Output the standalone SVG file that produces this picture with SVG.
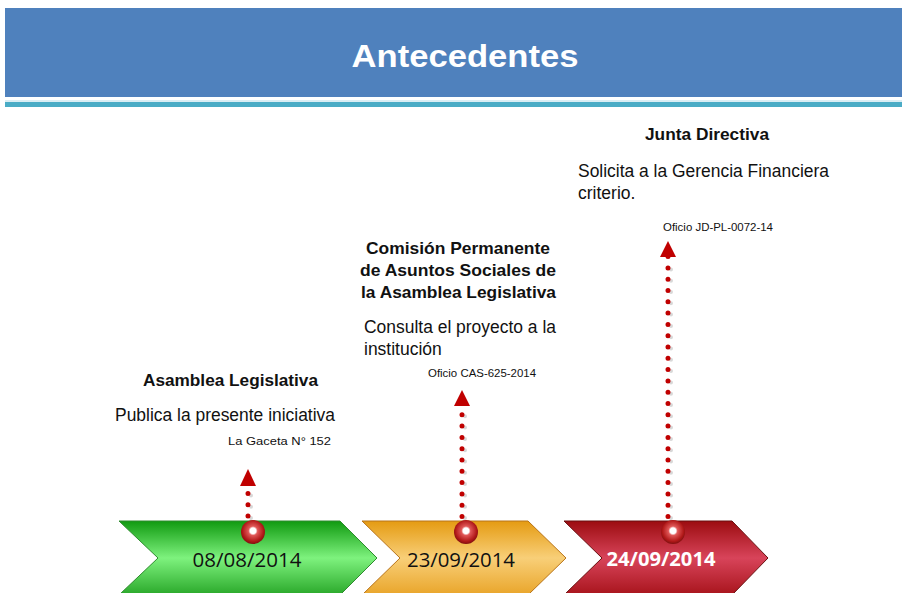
<svg xmlns="http://www.w3.org/2000/svg" width="902" height="593" viewBox="0 0 902 593">
<defs>
<linearGradient id="gGreen" x1="0" y1="0" x2="0" y2="1">
<stop offset="0" stop-color="#109a10"/><stop offset="0.5" stop-color="#7ef27e"/><stop offset="1" stop-color="#2aa82a"/>
</linearGradient>
<linearGradient id="gOrange" x1="0" y1="0" x2="0" y2="1">
<stop offset="0" stop-color="#e59b12"/><stop offset="0.5" stop-color="#f8cf78"/><stop offset="1" stop-color="#e9a52a"/>
</linearGradient>
<linearGradient id="gRed" x1="0" y1="0" x2="0" y2="1">
<stop offset="0" stop-color="#9c0c10"/><stop offset="0.5" stop-color="#d8445a"/><stop offset="1" stop-color="#a8141c"/>
</linearGradient>
<radialGradient id="gBall" cx="0.5" cy="0.45" r="0.55">
<stop offset="0" stop-color="#ffffff"/><stop offset="0.22" stop-color="#ffffff"/><stop offset="0.35" stop-color="#e05858"/><stop offset="0.8" stop-color="#b01818"/><stop offset="1" stop-color="#801010"/>
</radialGradient>
<style>
.title{font-family:"Liberation Sans",Arial,sans-serif;font-weight:bold;font-size:32px;fill:#ffffff}
.hd{font-family:"Liberation Sans",Arial,sans-serif;font-weight:bold;font-size:16.5px;fill:#111}
.bd{font-family:"Liberation Sans",Arial,sans-serif;font-size:17.5px;fill:#111}
.sm{font-family:"Liberation Sans",Arial,sans-serif;font-size:11px;fill:#111}
.date{font-family:"Open Sans","Liberation Sans",sans-serif;font-size:20px;fill:#111}
.dots{fill:none;stroke:#c00000;stroke-width:5;stroke-linecap:round;stroke-dasharray:0 11.3}
.shadow{fill:none;stroke:#c8c8c8;stroke-width:4;stroke-linecap:round;stroke-dasharray:0 11.3;opacity:0.7}
.arrow{fill:#c00000}
</style>
</defs>
<g id="header">
<rect x="5" y="8" width="897" height="89" fill="#4f81bd"/>
<rect x="5" y="100" width="897" height="2" fill="#dbeef4"/>
<rect x="5" y="102" width="897" height="5" fill="#4bacc6"/>
<text class="title" x="465" y="67" text-anchor="middle" textLength="227" lengthAdjust="spacingAndGlyphs">Antecedentes</text>
</g>
<g id="connectors">
<line class="shadow" x1="251" y1="518" x2="251" y2="490"/>
<line class="dots" x1="248" y1="516" x2="248" y2="488"/>
<polygon class="arrow" points="248,469 240,486 256,486"/>
<line class="shadow" x1="465" y1="518" x2="465" y2="410"/>
<line class="dots" x1="462" y1="516.5" x2="462" y2="403"/>
<polygon class="arrow" points="462,390 454,406 470,406"/>
<line class="shadow" x1="671" y1="518" x2="671" y2="262"/>
<line class="dots" x1="668" y1="516.5" x2="668" y2="256"/>
<polygon class="arrow" points="668,241 660,257 676,257"/>
</g>
<g id="node-1">
<polygon points="119,521 340,521 377,558 340,595 119,595 158,558" fill="url(#gGreen)" stroke="#2e8b2e" stroke-width="1"/>
<circle cx="253" cy="532" r="12" fill="url(#gBall)"/>
<text class="date" x="247" y="567" text-anchor="middle" textLength="109" lengthAdjust="spacingAndGlyphs">08/08/2014</text>
<text class="hd" x="143" y="386" textLength="175" lengthAdjust="spacingAndGlyphs">Asamblea Legislativa</text>
<text class="bd" x="115" y="421" textLength="220" lengthAdjust="spacingAndGlyphs">Publica la presente iniciativa</text>
<text class="sm" x="228" y="445" textLength="103" lengthAdjust="spacingAndGlyphs">La Gaceta N° 152</text>
</g>
<g id="node-2">
<polygon points="362,521 528,521 566,558 528,595 362,595 400,558" fill="url(#gOrange)" stroke="#b8741a" stroke-width="1"/>
<circle cx="466" cy="532" r="12" fill="url(#gBall)"/>
<text class="date" x="461" y="567" text-anchor="middle" textLength="108" lengthAdjust="spacingAndGlyphs">23/09/2014</text>
<text class="hd" x="366" y="254" textLength="184" lengthAdjust="spacingAndGlyphs">Comisión Permanente</text>
<text class="hd" x="360" y="276" textLength="196" lengthAdjust="spacingAndGlyphs">de Asuntos Sociales de</text>
<text class="hd" x="361" y="298" textLength="195" lengthAdjust="spacingAndGlyphs">la Asamblea Legislativa</text>
<text class="bd" x="364" y="333" textLength="192" lengthAdjust="spacingAndGlyphs">Consulta el proyecto a la</text>
<text class="bd" x="364" y="355">institución</text>
<text class="sm" x="428" y="377" textLength="108" lengthAdjust="spacingAndGlyphs">Oficio CAS-625-2014</text>
</g>
<g id="node-3">
<polygon points="564,521 732,521 768,558 732,595 564,595 602,558" fill="url(#gRed)" stroke="#6a1010" stroke-width="1"/>
<circle cx="673" cy="532" r="12" fill="url(#gBall)"/>
<text class="date" x="661" y="566" text-anchor="middle" font-weight="bold" style="fill:#ffffff" textLength="109" lengthAdjust="spacingAndGlyphs">24/09/2014</text>
<text class="hd" x="645" y="140" textLength="124" lengthAdjust="spacingAndGlyphs">Junta Directiva</text>
<text class="bd" x="578" y="177" textLength="251" lengthAdjust="spacingAndGlyphs">Solicita a la Gerencia Financiera</text>
<text class="bd" x="578" y="199">criterio.</text>
<text class="sm" x="663" y="231" textLength="110" lengthAdjust="spacingAndGlyphs">Oficio JD-PL-0072-14</text>
</g>
</svg>
